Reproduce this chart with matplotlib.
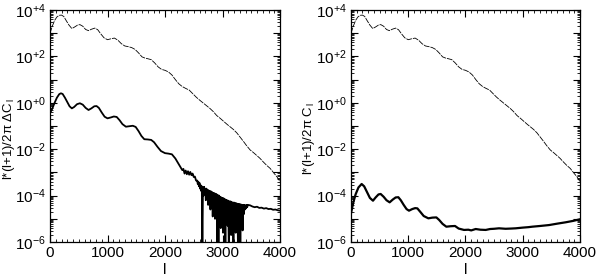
import numpy as np
import matplotlib.pyplot as plt
from matplotlib.ticker import FixedLocator, FuncFormatter, MultipleLocator

# total spectrum (thin line, same on both panels), log10 of l(l+1)/2pi C_l
l_total = [0, 40, 80, 120, 160, 200, 240, 280, 330, 380, 430, 480, 520, 570, 620,
           670, 720, 780, 830, 880, 940, 1000, 1060, 1120, 1180, 1240, 1300, 1360,
           1420, 1480, 1540, 1600, 1650, 1700, 1760, 1820, 1880, 1940, 2000, 2060,
           2120, 2180, 2240, 2300, 2360, 2420, 2480, 2540, 2600, 2660, 2720, 2780,
           2840, 2900, 2960, 3020, 3080, 3130, 3190, 3250, 3300, 3360, 3420, 3480,
           3540, 3600, 3650, 3710, 3770, 3830, 3900, 3950, 4000]
log_total = [3.0, 3.3, 3.55, 3.7, 3.77, 3.78, 3.72, 3.55, 3.35, 3.2, 3.27, 3.35, 3.37,
             3.3, 3.16, 3.11, 3.17, 3.22, 3.15, 2.98, 2.8, 2.72, 2.76, 2.79, 2.7, 2.55,
             2.45, 2.42, 2.38, 2.3, 2.15, 1.98, 1.93, 1.9, 1.86, 1.72, 1.55, 1.44, 1.4,
             1.33, 1.2, 1.0, 0.82, 0.7, 0.62, 0.55, 0.4, 0.25, 0.12, 0.0, -0.12, -0.24,
             -0.38, -0.55, -0.67, -0.8, -0.93, -1.03, -1.15, -1.3, -1.46, -1.65, -1.85,
             -2.03, -2.15, -2.28, -2.39, -2.55, -2.7, -2.83, -3.05, -3.2, -3.4]

# difference spectrum (left, thick line): smooth part up to l=2550
l_diff_a = [0, 40, 80, 120, 160, 190, 220, 260, 300, 340, 380, 420, 470, 520, 570, 620,
            670, 720, 770, 810, 850, 900, 950, 1000, 1060, 1110, 1160, 1210, 1260, 1320,
            1380, 1440, 1490, 1540, 1590, 1640, 1700, 1760, 1810, 1870, 1930, 2000, 2060,
            2120, 2180, 2240, 2300, 2320, 2340, 2360, 2380, 2400, 2420, 2440, 2460, 2480,
            2500, 2520, 2540]
log_diff_a = [-0.45, -0.25, 0.0, 0.22, 0.37, 0.41, 0.38, 0.22, 0.03, -0.15, -0.24, -0.18,
              -0.06, -0.02, -0.08, -0.22, -0.31, -0.24, -0.15, -0.14, -0.22, -0.42, -0.6,
              -0.67, -0.63, -0.59, -0.61, -0.75, -0.92, -1.03, -1.01, -0.99, -1.04, -1.22,
              -1.43, -1.57, -1.58, -1.6, -1.7, -1.9, -2.08, -2.17, -2.19, -2.22, -2.4,
              -2.65, -2.9, -2.85, -3.05, -2.92, -3.08, -2.95, -3.1, -2.98, -3.12, -3.05,
              -3.2, -3.18, -3.35]

# noisy part, every 10 in l (values below -6 drop out of the frame)
l_diff_b = list(range(2560, 3450, 10))
log_diff_b = [-3.35, -3.5, -3.4, -3.6, -3.45, -3.7, -3.55, -3.8, -3.6, -6.5,
              -3.65, -4.0, -3.62, -3.9, -3.7, -4.2, -3.7, -4.05, -3.75, -4.4,
              -3.78, -4.1, -3.8, -4.6, -3.82, -4.2, -3.85, -4.9, -3.88, -4.3,
              -3.9, -5.0, -3.92, -4.4, -3.95, -6.5, -3.98, -6.5, -4.0, -4.7,
              -4.05, -5.4, -4.08, -4.6, -4.1, -5.6, -4.12, -4.8, -4.15, -6.0,
              -4.18, -4.7, -4.2, -5.3, -4.22, -6.5, -4.25, -5.0, -4.25, -5.7,
              -4.28, -4.9, -4.3, -6.1, -4.3, -5.0, -4.32, -5.6, -4.33, -4.8,
              -4.35, -6.5, -4.36, -5.2, -4.37, -6.5, -4.38, -5.0, -4.4, -5.5,
              -4.4, -4.8, -4.4, -4.6, -4.42, -4.55, -4.4, -4.5, -4.4]

# tail after the noise
l_diff_c = [3480, 3520, 3560, 3600, 3640, 3680, 3720, 3760, 3800, 3840, 3880, 3920,
            3960, 4000]
log_diff_c = [-4.42, -4.47, -4.5, -4.48, -4.53, -4.52, -4.56, -4.54, -4.58, -4.57,
              -4.61, -4.6, -4.63, -4.65]

l_diff = l_diff_a + l_diff_b + l_diff_c
log_diff = log_diff_a + log_diff_b + log_diff_c

# right panel, thick line
l_right = [0, 40, 80, 130, 186, 230, 280, 330, 384, 430, 480, 518, 570, 620, 675, 730,
           780, 827, 870, 920, 970, 1013, 1070, 1120, 1159, 1210, 1270, 1351, 1420, 1491,
           1540, 1600, 1665, 1740, 1817, 1880, 1974, 2050, 2100, 2178, 2260, 2353, 2430,
           2500, 2585, 2700, 2800, 2877, 3000, 3100, 3167, 3300, 3459, 3600, 3751, 3880,
           4000]
log_right = [-4.76, -4.3, -3.95, -3.65, -3.5, -3.6, -3.85, -4.1, -4.22, -4.08, -3.95,
             -3.93, -4.05, -4.2, -4.29, -4.17, -4.08, -4.07, -4.2, -4.4, -4.58, -4.65,
             -4.58, -4.54, -4.55, -4.7, -4.88, -4.98, -4.95, -4.94, -5.05, -5.22, -5.34,
             -5.32, -5.31, -5.42, -5.48, -5.47, -5.5, -5.44, -5.47, -5.48, -5.44, -5.43,
             -5.41, -5.43, -5.42, -5.41, -5.38, -5.36, -5.34, -5.31, -5.27, -5.21, -5.15,
             -5.09, -5.02]

plt.rcParams['font.family'] = ['Liberation Sans', 'DejaVu Sans']
plt.rcParams['mathtext.fontset'] = 'custom'
plt.rcParams['mathtext.rm'] = 'Liberation Sans'
plt.rcParams['mathtext.it'] = 'Liberation Sans'


def pow_label(v, _):
    e = int(round(np.log10(v)))
    if e % 2:
        return ''
    sign = '+' if e >= 0 else '-'
    return r'$\mathregular{10^{%s%d}}$' % (sign, abs(e))


def style_axis(ax, ylabel, label_x):
    ax.set_yscale('log')
    ax.set_xlim(0, 4000)
    ax.set_ylim(1e-6, 1e4)
    ax.yaxis.set_major_locator(FixedLocator([10.0 ** k for k in range(-6, 5)]))
    ax.yaxis.set_major_formatter(FuncFormatter(pow_label))
    ax.yaxis.set_minor_locator(FixedLocator(
        [s * 10.0 ** k for k in range(-6, 4) for s in range(2, 10)]))
    ax.xaxis.set_major_locator(MultipleLocator(1000))
    ax.xaxis.set_minor_locator(MultipleLocator(100))
    ax.tick_params(which='both', direction='in', top=True, right=True, labelsize=11)
    ax.tick_params(which='major', length=5, width=0.8, pad=3)
    ax.tick_params(which='minor', length=2.5, width=0.6)
    for s in ax.spines.values():
        s.set_linewidth(0.9)
    ax.set_xlabel('l', fontsize=11, labelpad=2)
    ax.set_ylabel(ylabel, fontsize=9.5, va='center')
    ax.yaxis.set_label_coords(label_x, 0.445)


fig = plt.figure(figsize=(6.0, 2.79), dpi=100)
ax1 = fig.add_axes([50 / 600, 37 / 279, 230 / 600, 232 / 279])
ax2 = fig.add_axes([351 / 600, 37 / 279, 229 / 600, 232 / 279])

ax1.plot(l_total, 10.0 ** np.array(log_total), color='black', lw=0.6, ls=(0, (7, 1.2)))
ax1.plot(l_diff, 10.0 ** np.array(log_diff), color='black', lw=1.3)
style_axis(ax1, 'l*(l+1)/2\u03c0 \u0394C$_{\\,\\mathregular{l}}$', -0.18)

ax2.plot(l_total, 10.0 ** np.array(log_total), color='black', lw=0.6, ls=(0, (7, 1.2)))
ax2.plot(l_right, 10.0 ** np.array(log_right), color='black', lw=1.6)
style_axis(ax2, 'l*(l+1)/2\u03c0 C$_{\\,\\mathregular{l}}$', -0.185)

fig.savefig('out.png', dpi=100)
